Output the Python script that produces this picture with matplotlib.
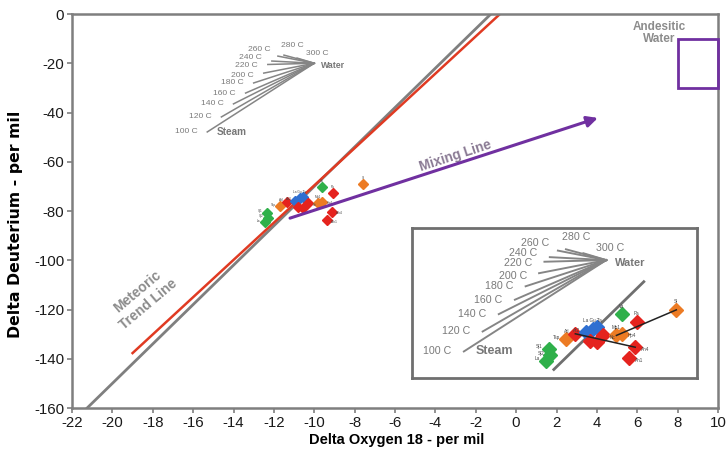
import matplotlib
matplotlib.use('Agg')
import matplotlib.pyplot as plt
from matplotlib.patches import Rectangle

plt.rcParams['font.family'] = ['Liberation Sans', 'DejaVu Sans']
plt.rcParams['axes.unicode_minus'] = False

# steam / water fractionation fan (per mil)
fan_temps = ['100 C', '120 C', '140 C', '160 C', '180 C', '200 C',
             '220 C', '240 C', '260 C', '280 C', '300 C']
steam_o18 = [-15.3, -14.6, -14.0, -13.4, -13.0, -12.5, -12.3, -12.1, -11.8, -11.5, -10.85]
steam_dd = [-47.9, -41.8, -36.5, -32.1, -28.0, -24.0, -20.5, -19.1, -17.1, -16.7, -17.9]
water_o18 = -10.0
water_dd = -20.0

# spring / well samples
sample_names = ['Sj1', 'Sj2', 'La', 'Tsp', 'Atl', 'At2', 'La Gu Ta', '', '', '',
                'Nc', 'Va', 'Pa', 'Mp1', 'Hp4', 'Si', 'Ah4', 'Ah1']
sample_o18 = [-12.34, -12.29, -12.44, -11.70, -11.35, -10.95, -10.71, -10.56, -10.81,
              -10.56, -10.31, -9.62, -9.07, -9.82, -9.62, -7.59, -9.12, -9.37]
sample_dd = [-80.8, -82.8, -84.5, -78.0, -76.3, -75.9, -74.7, -74.3, -78.4,
             -78.8, -76.8, -70.3, -72.7, -76.8, -76.3, -69.0, -80.4, -83.7]
sample_group = ['green', 'green', 'green', 'orange', 'red', 'blue', 'blue', 'blue', 'red',
                'red', 'red', 'green', 'red', 'orange', 'orange', 'orange', 'red', 'red']
tie_lines = [(4, 16), (13, 15)]

# reference lines
mwl_slope, mwl_intercept = 8, 10
mwl_o18 = [-22, 0]
trend_o18 = [-19.0, -0.8]
trend_dd = [-137.7, 0.0]
mix_o18 = [-11.2, 4.05]
mix_dd = [-82.9, -42.2]
andesitic_o18 = [8, 10]
andesitic_dd = [-30, -10]
inset_mwl_o18 = [-12.15, -8.8]

colors = {'green': '#2fb04a', 'orange': '#ec7b24', 'red': '#e5231e', 'blue': '#2f6fd1'}
PURPLE = '#7030a0'
GREY = '#7f7f7f'
TXT_GREY = '#8c8c8c'
label_side = ['left', 'left', 'left', 'left', 'left', 'left', 'above', '', '', '',
              'right', 'above', 'above', 'above', 'right', 'above', 'right', 'right']


def draw_fan(a, dx, dy, s):
    for x, y in zip(steam_o18, steam_dd):
        a.plot([x + dx, water_o18 + dx], [y + dy, water_dd + dy], color='#858585',
               lw=1.1 * s, zorder=2)
    for t, x, y in zip(fan_temps, steam_o18, steam_dd):
        if t == '280 C':
            off, ha = (6 * s, 7 * s), 'center'
        elif t == '300 C':
            # label sits above the water end of the fan
            x, y = water_o18, water_dd
            off, ha = (2 * s, 7 * s), 'center'
        elif t == '260 C':
            off, ha = (-5 * s, 4.5 * s), 'right'
        elif t == '240 C':
            off, ha = (-7 * s, 2.5 * s), 'right'
        elif t == '220 C':
            off, ha = (-7 * s, -0.5 * s), 'right'
        elif t == '200 C':
            off, ha = (-7 * s, -1.5 * s), 'right'
        else:
            off, ha = (-7 * s, 0), 'right'
        a.annotate(t, (x + dx, y + dy), xytext=off, textcoords='offset points',
                   ha=ha, va='center', fontsize=6.1 * s, color='#7a7a7a')
    a.annotate('Water', (water_o18 + dx, water_dd + dy), xytext=(5 * s, -1.5 * s),
               textcoords='offset points', ha='left', va='center', fontsize=6.3 * s,
               fontweight='bold', color='#777777')
    a.annotate('Steam', (steam_o18[0] + dx, steam_dd[0] + dy), xytext=(7 * s, 0),
               textcoords='offset points', ha='left', va='center', fontsize=7.2 * s,
               fontweight='bold', color='#777777')


def draw_samples(a, ms, fs):
    for x, y, g in zip(sample_o18, sample_dd, sample_group):
        a.plot(x, y, marker='D', ms=ms, color=colors[g], mec=colors[g], ls='none', zorder=3)
    for n, x, y, side in zip(sample_names, sample_o18, sample_dd, label_side):
        if not n:
            continue
        if side == 'left':
            off, ha, va = (-ms * 0.6, ms * 0.2), 'right', 'center'
        elif side == 'right':
            off, ha, va = (ms * 0.6, -ms * 0.2), 'left', 'center'
        else:
            off, ha, va = (0, ms * 0.55), 'center', 'bottom'
        a.annotate(n, (x, y), xytext=off, textcoords='offset points', ha=ha, va=va,
                   fontsize=fs, color='#444444', zorder=4)


fig = plt.figure(figsize=(7.28, 4.5), dpi=100)
ax = fig.add_axes([72 / 728, 42 / 450, 646 / 728, 394 / 450])

mwl_dd = [mwl_slope * x + mwl_intercept for x in mwl_o18]
ax.plot(mwl_o18, mwl_dd, color=GREY, lw=2, zorder=2)
ax.plot(trend_o18, trend_dd, color='#e03a22', lw=1.8, zorder=2)
draw_samples(ax, 5.3, 2.3)
draw_fan(ax, 0, 0, 1.0)

ax.annotate('', xy=(mix_o18[1], mix_dd[1]), xytext=(mix_o18[0], mix_dd[0]),
            arrowprops=dict(arrowstyle='-|>', color=PURPLE, lw=2.2, mutation_scale=16,
                            shrinkA=0, shrinkB=0), zorder=4)
ax.add_patch(Rectangle((andesitic_o18[0], andesitic_dd[0]),
                       andesitic_o18[1] - andesitic_o18[0], andesitic_dd[1] - andesitic_dd[0],
                       fill=False, ec=PURPLE, lw=2, zorder=4, clip_on=False))

ax.text(-18.48, -115.3, 'Meteoric\nTrend Line', rotation=40, rotation_mode='anchor',
        ha='center', va='center', fontsize=10, fontweight='bold', color=TXT_GREY)
ax.text(-3.03, -57.7, 'Mixing Line', rotation=18, rotation_mode='anchor',
        ha='center', va='center', fontsize=9.8, fontweight='bold', color='#8a7a94')
ax.text(7.07, -7.7, 'Andesitic\nWater', ha='center', va='center', fontsize=8.5,
        fontweight='bold', color=TXT_GREY, linespacing=1.05)

ax.set_xlim(-22, 10)
ax.set_ylim(-160, 0)
ax.set_xticks(range(-22, 11, 2))
ax.set_yticks(range(-160, 1, 20))
ax.tick_params(direction='out', length=3.6, width=1.2, color=GREY, labelsize=10.8,
               labelcolor='#1a1a1a', pad=2)
for sp in ax.spines.values():
    sp.set_color(GREY)
    sp.set_linewidth(1.8)
ax.set_xlabel('Delta Oxygen 18 - per mil', fontsize=10.5, fontweight='bold')
ax.set_ylabel('Delta Deuterium - per mil', fontsize=11.3, fontweight='bold',
              family='DejaVu Sans')
ax.xaxis.set_label_coords(0.503, -0.063)
ax.yaxis.set_label_coords(-0.076, 0.467)

# enlarged inset of the fan and the sample cluster
ins = fig.add_axes([412 / 728, 72 / 450, 285 / 728, 150 / 450])
ins.set_xlim(-17.43, -6.82)
ins.set_ylim(-89.8, -44.0)
ins.set_xticks([])
ins.set_yticks([])
for sp in ins.spines.values():
    sp.set_color('#6f6f6f')
    sp.set_linewidth(2)
ins.plot(inset_mwl_o18, [mwl_slope * x + mwl_intercept for x in inset_mwl_o18],
         color='#6f6f6f', lw=2, zorder=2)
for i, j in tie_lines:
    ins.plot([sample_o18[i], sample_o18[j]], [sample_dd[i], sample_dd[j]],
             color='#222222', lw=1.1, zorder=5)
draw_samples(ins, 7.2, 3.3)
draw_fan(ins, -0.2, -33.8, 1.25)

fig.savefig('out.png', dpi=100)
